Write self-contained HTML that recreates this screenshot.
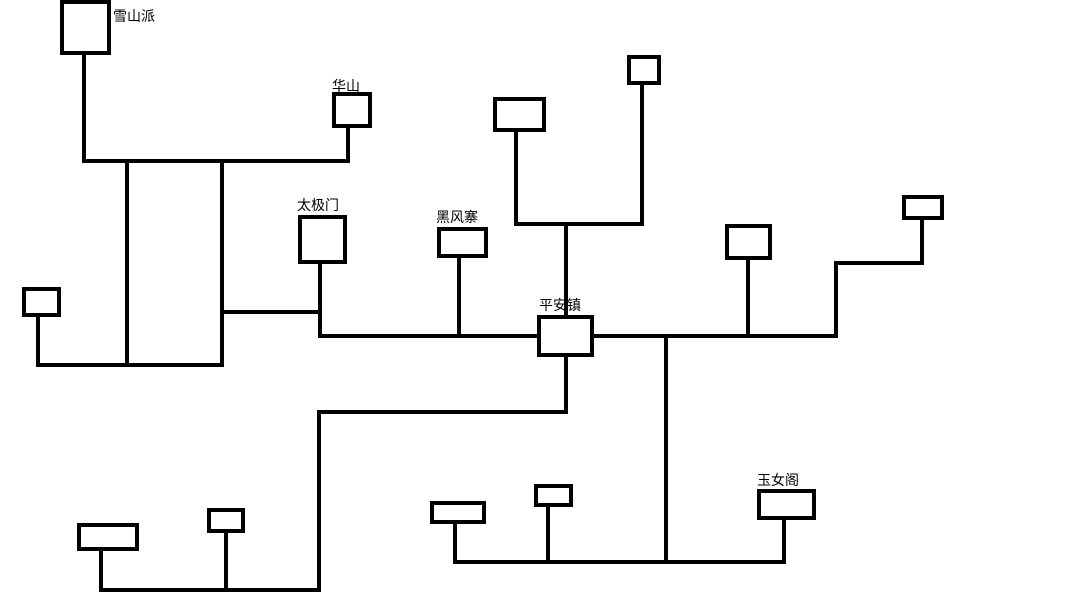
<!DOCTYPE html>
<html><head><meta charset="utf-8"><style>
html,body{margin:0;padding:0;background:#fff;}
svg{display:block}
text{font-family:"Liberation Sans","Noto Sans CJK SC",sans-serif;font-size:14px;fill:#000}
</style></head><body>
<svg width="1080" height="607" viewBox="0 0 1080 607" xmlns="http://www.w3.org/2000/svg">
<g fill="none" stroke="#000" stroke-width="4" stroke-linecap="square">
<rect x="62" y="2" width="47" height="51"/>
<rect x="334" y="94" width="36" height="32"/>
<rect x="24" y="289" width="35" height="26"/>
<rect x="300" y="217" width="45" height="45"/>
<rect x="439" y="229" width="47" height="27"/>
<rect x="539" y="317" width="53" height="38"/>
<rect x="495" y="99" width="49" height="31"/>
<rect x="629" y="57" width="30" height="26"/>
<rect x="727" y="226" width="43" height="32"/>
<rect x="904" y="197" width="38" height="21"/>
<rect x="759" y="491" width="55" height="27"/>
<rect x="536" y="486" width="35" height="19"/>
<rect x="432" y="503" width="52" height="19"/>
<rect x="79" y="525" width="58" height="24"/>
<rect x="209" y="510" width="34" height="21"/>
<polyline points="84,54 84,161 348,161 348,127"/>
<line x1="127" y1="161" x2="127" y2="365"/>
<line x1="222" y1="161" x2="222" y2="365"/>
<polyline points="38,316 38,365 222,365"/>
<polyline points="222,312 320,312 320,263"/>
<polyline points="320,312 320,336 538,336"/>
<line x1="459" y1="257" x2="459" y2="336"/>
<line x1="566" y1="224" x2="566" y2="316"/>
<polyline points="516,131 516,224 642,224 642,84"/>
<line x1="593" y1="336" x2="836" y2="336"/>
<line x1="748" y1="259" x2="748" y2="336"/>
<polyline points="836,336 836,263 922,263 922,219"/>
<line x1="666" y1="336" x2="666" y2="562"/>
<polyline points="455,523 455,562 784,562 784,519"/>
<line x1="548" y1="506" x2="548" y2="562"/>
<polyline points="566,356 566,412 319,412 319,590 101,590 101,550"/>
<line x1="226" y1="532" x2="226" y2="590"/>
</g>
<text x="113" y="21">雪山派</text>
<text x="332" y="91">华山</text>
<text x="297" y="210">太极门</text>
<text x="436" y="222">黑风寨</text>
<text x="539" y="310">平安镇</text>
<text x="757" y="485">玉女阁</text>
</svg>
</body></html>
